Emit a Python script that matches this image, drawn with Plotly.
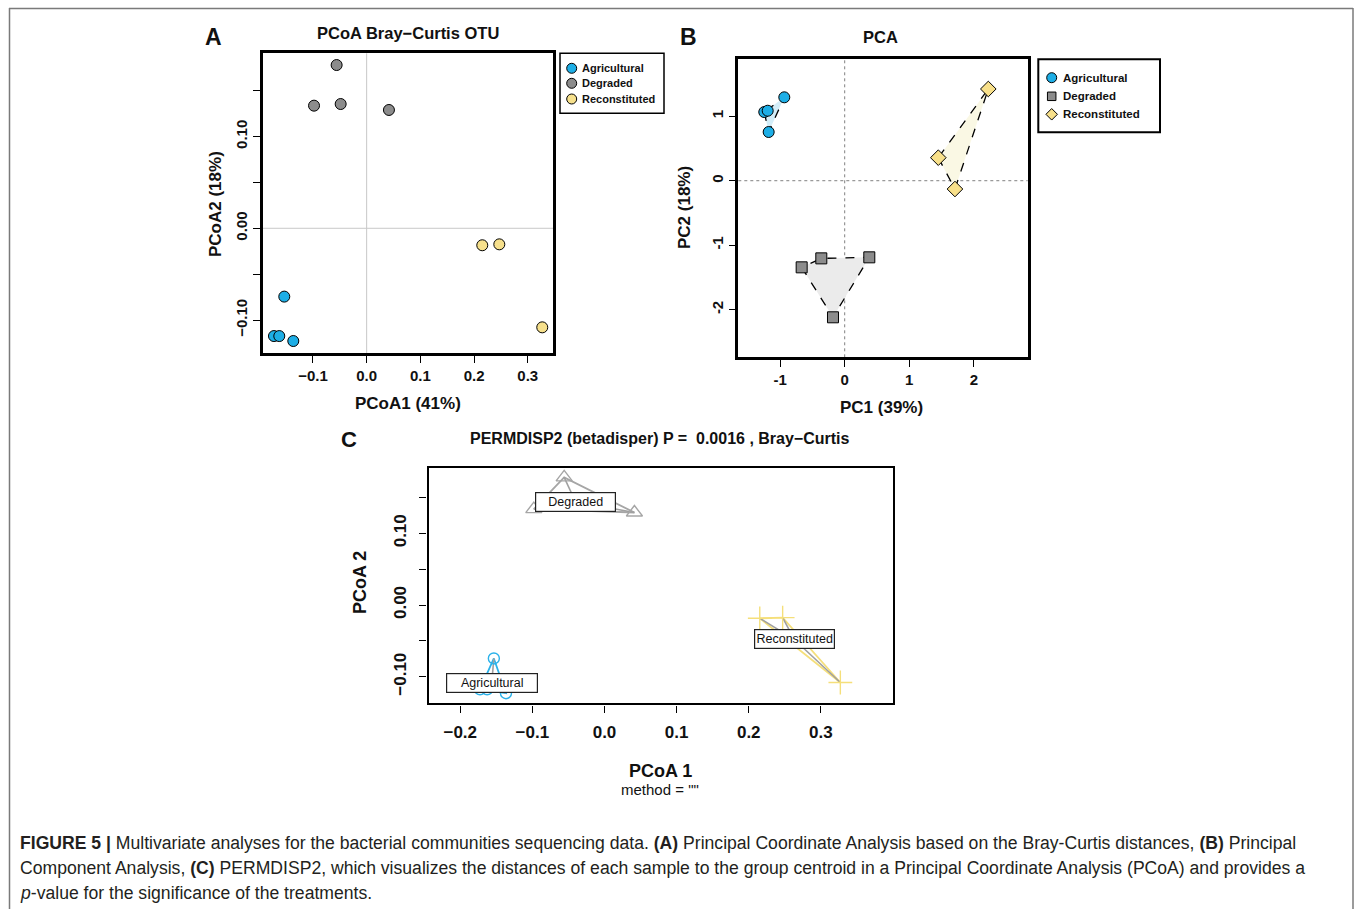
import plotly.graph_objects as go

W, H = 1355, 909
def px(x): return x / W
def py(y): return 1 - y / H

groups = ["Agricultural", "Degraded", "Reconstituted"]

# Panel A / C : PCoA Bray-Curtis coordinates
pcoa_x = {
    "Agricultural": [-0.1534, -0.1726, -0.1627, -0.1366],
    "Degraded": [-0.0559, -0.0980, -0.0484, 0.0415],
    "Reconstituted": [0.2153, 0.2470, 0.3270],
}
pcoa_y = {
    "Agricultural": [-0.0745, -0.1175, -0.1175, -0.1229],
    "Degraded": [0.1780, 0.1337, 0.1355, 0.1290],
    "Reconstituted": [-0.0185, -0.0175, -0.1080],
}
# Panel B : PCA scores
pca_x = {
    "Agricultural": [-0.935, -1.245, -1.192, -1.177],
    "Degraded": [-0.666, -0.362, 0.381, -0.181],
    "Reconstituted": [2.223, 1.449, 1.707],
}
pca_y = {
    "Agricultural": [1.293, 1.065, 1.085, 0.755],
    "Degraded": [-1.343, -1.204, -1.188, -2.118],
    "Reconstituted": [1.422, 0.357, -0.129],
}

pcoa_xticks = [-0.1, 0.0, 0.1, 0.2, 0.3]
pcoa_xtext = ["\u22120.1", "0.0", "0.1", "0.2", "0.3"]
pcoa_yticks = [-0.10, -0.05, 0.0, 0.05, 0.10, 0.15]
pcoa_ytext = ["\u22120.10", "", "0.00", "", "0.10", ""]
pca_xticks = [-1, 0, 1, 2]
pca_xtext = ["-1", "0", "1", "2"]
pca_yticks = [-2, -1, 0, 1]
pca_ytext = ["-2", "-1", "0", "1"]
c_xticks = [-0.2, -0.1, 0.0, 0.1, 0.2, 0.3]
c_xtext = ["\u22120.2", "\u22120.1", "0.0", "0.1", "0.2", "0.3"]

colA = {"Agricultural": "#1DAEE6", "Degraded": "#8C8C8C", "Reconstituted": "#F6E08C"}
fillB = {"Agricultural": "#D3EDF8", "Degraded": "#EBEBEB", "Reconstituted": "#FAF8E4"}
symB = {"Agricultural": "circle", "Degraded": "square", "Reconstituted": "diamond"}
colC = {"Agricultural": "#2BB2EA", "Degraded": "#A6A6A6", "Reconstituted": "#F5DF7A"}
symC = {"Agricultural": "circle-open", "Degraded": "triangle-up-open", "Reconstituted": "cross-thin-open"}
sizeC = {"Agricultural": 11, "Degraded": 14, "Reconstituted": 17}

FONT = "Liberation Sans, Arial, sans-serif"


def hull(xs, ys):
    pts = sorted(set(zip(xs, ys)))
    if len(pts) < 3:
        return pts
    def cross(o, a, b):
        return (a[0]-o[0])*(b[1]-o[1]) - (a[1]-o[1])*(b[0]-o[0])
    lower, upper = [], []
    for p in pts:
        while len(lower) >= 2 and cross(lower[-2], lower[-1], p) <= 0:
            lower.pop()
        lower.append(p)
    for p in reversed(pts):
        while len(upper) >= 2 and cross(upper[-2], upper[-1], p) <= 0:
            upper.pop()
        upper.append(p)
    h = lower[:-1] + upper[:-1]
    return h + [h[0]]


fig = go.Figure()

# ---------- Panel A ----------
for g in groups:
    fig.add_trace(go.Scatter(
        x=pcoa_x[g], y=pcoa_y[g], mode="markers", name=g, showlegend=False,
        marker=dict(size=11, color=colA[g], line=dict(color="black", width=1)),
        xaxis="x", yaxis="y"))

# ---------- Panel B ----------
for g in groups:
    h = hull(pca_x[g], pca_y[g])
    fig.add_trace(go.Scatter(
        x=[p[0] for p in h], y=[p[1] for p in h], mode="lines", fill="toself",
        fillcolor=fillB[g], line=dict(color="black", width=1.3, dash="dash"),
        showlegend=False, xaxis="x2", yaxis="y2"))
for g in groups:
    fig.add_trace(go.Scatter(
        x=pca_x[g], y=pca_y[g], mode="markers", showlegend=False,
        marker=dict(size=11 if g != "Reconstituted" else 12, symbol=symB[g],
                    color=colA[g] if g != "Reconstituted" else "#F8E08A",
                    line=dict(color="black", width=1)),
        xaxis="x2", yaxis="y2"))

# ---------- Panel C ----------
for g in groups:
    xs, ys = pcoa_x[g], pcoa_y[g]
    cx = sum(xs) / len(xs)
    cy = sum(ys) / len(ys)
    h = hull(xs, ys)
    fig.add_trace(go.Scatter(
        x=[p[0] for p in h], y=[p[1] for p in h], mode="lines",
        line=dict(color=colC[g], width=1.8), showlegend=False,
        xaxis="x3", yaxis="y3"))
    sx, sy = [], []
    for x, y in zip(xs, ys):
        sx += [cx, x, None]
        sy += [cy, y, None]
    fig.add_trace(go.Scatter(
        x=sx, y=sy, mode="lines", line=dict(color="#A0A0A0", width=1.6),
        showlegend=False, xaxis="x3", yaxis="y3"))
    fig.add_trace(go.Scatter(
        x=xs, y=ys, mode="markers", showlegend=False,
        marker=dict(size=sizeC[g], symbol=symC[g], color=colC[g],
                    line=dict(color=colC[g], width=1.4)),
        xaxis="x3", yaxis="y3"))

lblw = {"Agricultural": 88, "Degraded": 77, "Reconstituted": 77}
annotations = []
for g in groups:
    xs, ys = pcoa_x[g], pcoa_y[g]
    annotations.append(dict(
        x=sum(xs)/len(xs), y=sum(ys)/len(ys), xref="x3", yref="y3",
        text=g, showarrow=False, bgcolor="white", bordercolor="#222",
        borderwidth=1.2, borderpad=1, width=lblw[g], height=16,
        font=dict(family=FONT, size=12.5, color="#111")))

axis_common = dict(showgrid=False, zeroline=False, showline=True, mirror=True,
                   linecolor="black", ticks="outside", ticklen=7, tickwidth=1.2,
                   tickcolor="black",
                   tickfont=dict(family=FONT, size=15, color="#111", weight="bold"))

layout = dict(
    width=W, height=H, margin=dict(l=0, r=0, t=0, b=0),
    paper_bgcolor="white", plot_bgcolor="white", showlegend=False,
    xaxis=dict(axis_common, domain=[px(263), px(553)], range=[-0.193, 0.347],
               tickvals=pcoa_xticks, ticktext=pcoa_xtext, linewidth=2.6, anchor="y"),
    yaxis=dict(axis_common, domain=[py(353.3), py(53.3)], range=[-0.1363, 0.1908],
               tickvals=pcoa_yticks, ticktext=pcoa_ytext, tickangle=-90,
               linewidth=2.6, anchor="x"),
    xaxis2=dict(axis_common, domain=[px(738.3), px(1027.7)], range=[-1.647, 2.833],
                tickvals=pca_xticks, ticktext=pca_xtext, linewidth=2.6, anchor="y2"),
    yaxis2=dict(axis_common, domain=[py(357.3), py(59)], range=[-2.738, 1.887],
                tickvals=pca_yticks, ticktext=pca_ytext, tickangle=-90,
                linewidth=2.6, anchor="x2"),
    xaxis3=dict(axis_common, domain=[px(428.5), px(893)], range=[-0.244, 0.400],
                tickvals=c_xticks, ticktext=c_xtext, linewidth=2.4, anchor="y3",
                ticklabelstandoff=5,
                tickfont=dict(family=FONT, size=17, color="#111", weight="bold")),
    yaxis3=dict(axis_common, domain=[py(703.3), py(467.7)], range=[-0.137, 0.1915],
                tickvals=pcoa_yticks, ticktext=pcoa_ytext, tickangle=-90,
                linewidth=2.4, anchor="x3", ticklabelstandoff=7,
                tickfont=dict(family=FONT, size=17, color="#111", weight="bold")),
)

shapes = []
# reference lines
shapes.append(dict(type="line", xref="x", yref="y domain", x0=0, x1=0, y0=0, y1=1,
                   line=dict(color="#C8C8C8", width=1), layer="below"))
shapes.append(dict(type="line", xref="x domain", yref="y", x0=0, x1=1, y0=0, y1=0,
                   line=dict(color="#C8C8C8", width=1), layer="below"))
shapes.append(dict(type="line", xref="x2", yref="y2 domain", x0=0, x1=0, y0=0, y1=1,
                   line=dict(color="#808080", width=1, dash="dot"), layer="below"))
shapes.append(dict(type="line", xref="x2 domain", yref="y2", x0=0, x1=1, y0=0, y1=0,
                   line=dict(color="#808080", width=1, dash="dot"), layer="below"))

# figure frame
fc = "#7A7A7A"
shapes.append(dict(type="line", xref="paper", yref="paper", x0=px(9), x1=px(1353),
                   y0=py(8.5), y1=py(8.5), line=dict(color=fc, width=1.5)))
shapes.append(dict(type="line", xref="paper", yref="paper", x0=px(9.5), x1=px(9.5),
                   y0=py(8), y1=py(912), line=dict(color=fc, width=1.5)))
shapes.append(dict(type="line", xref="paper", yref="paper", x0=px(1353), x1=px(1353),
                   y0=py(8), y1=py(912), line=dict(color=fc, width=1.5)))


def legend(box, mx, text_x, rows, syms, cols, fsize, msz, lw):
    x0, y0, x1, y1 = box
    shapes.append(dict(type="rect", xref="paper", yref="paper", x0=px(x0), x1=px(x1),
                       y0=py(y1), y1=py(y0), line=dict(color="black", width=lw),
                       fillcolor="white"))
    r = msz / 2
    for g, yy, s, c in zip(groups, rows, syms, cols):
        if s == "circle":
            shapes.append(dict(type="circle", xref="paper", yref="paper",
                               x0=px(mx - r), x1=px(mx + r), y0=py(yy + r), y1=py(yy - r),
                               fillcolor=c, line=dict(color="black", width=1)))
        elif s == "square":
            rr = r * 0.85
            shapes.append(dict(type="rect", xref="paper", yref="paper",
                               x0=px(mx - rr), x1=px(mx + rr), y0=py(yy + rr), y1=py(yy - rr),
                               fillcolor=c, line=dict(color="black", width=1)))
        else:
            rr = r * 1.15
            path = "M {} {} L {} {} L {} {} L {} {} Z".format(
                px(mx), py(yy - rr), px(mx + rr), py(yy), px(mx), py(yy + rr), px(mx - rr), py(yy))
            shapes.append(dict(type="path", xref="paper", yref="paper", path=path,
                               fillcolor=c, line=dict(color="black", width=1)))
        annotations.append(dict(x=px(text_x), y=py(yy), xref="paper", yref="paper",
                                xanchor="left", yanchor="middle", showarrow=False, text=g,
                                font=dict(family=FONT, size=fsize, color="#111", weight="bold")))


legend((560, 53.3, 664, 113.3), 571.7, 579.5, [68.3, 83.3, 99.0],
       ["circle", "circle", "circle"],
       [colA["Agricultural"], colA["Degraded"], colA["Reconstituted"]], 11, 10, 1.5)
legend((1038.3, 59.3, 1160, 132.3), 1051.7, 1061, [77.7, 96.3, 114.3],
       ["circle", "square", "diamond"],
       [colA["Agricultural"], "#8C8C8C", "#F8E08A"], 11.5, 10, 2)


def txt(x, y, s, size, bold=True, angle=0, anchor="center", color="#111"):
    annotations.append(dict(x=px(x), y=py(y), xref="paper", yref="paper", text=s,
                            showarrow=False, xanchor=anchor, yanchor="middle",
                            textangle=angle,
                            font=dict(family=FONT, size=size, color=color,
                                      weight="bold" if bold else "normal")))


txt(213, 37, "A", 23)
txt(408, 32.7, "PCoA Bray\u2212Curtis OTU", 16.5)
txt(408, 403, "PCoA1 (41%)", 17)
txt(215, 204, "PCoA2 (18%)", 17, angle=-90)

txt(688, 37, "B", 23)
txt(880, 36.7, "PCA", 16.5)
txt(882, 407.7, "PC1 (39%)", 17)
txt(685, 208, "PC2 (18%)", 17, angle=-90)

txt(348.5, 439, "C", 22)
txt(660, 438, "PERMDISP2 (betadisper) P =  0.0016 , Bray\u2212Curtis", 16)
txt(660, 771, "PCoA 1", 18)
txt(660, 789, "method = \"\"", 15, bold=False)
txt(360, 583, "PCoA 2", 18, angle=-90)

cap_font = "Liberation Sans Narrow, Liberation Sans, Arial, sans-serif"
cap = [
    "<b>FIGURE 5 |</b> Multivariate analyses for the bacterial communities sequencing data. "
    "<b>(A)</b> Principal Coordinate Analysis based on the Bray-Curtis distances, <b>(B)</b> Principal",
    "Component Analysis, <b>(C)</b> PERMDISP2, which visualizes the distances of each sample to the "
    "group centroid in a Principal Coordinate Analysis (PCoA) and provides a",
    "<i>p</i>-value for the significance of the treatments.",
]
for i, line in enumerate(cap):
    annotations.append(dict(x=px(18), y=py(843 + 25 * i), xref="paper", yref="paper",
                            text=line, showarrow=False, xanchor="left", yanchor="middle",
                            font=dict(family=cap_font, size=17.6, color="#231F20")))

layout["shapes"] = shapes
layout["annotations"] = annotations
fig.update_layout(**layout)
fig.write_html("out.html")
